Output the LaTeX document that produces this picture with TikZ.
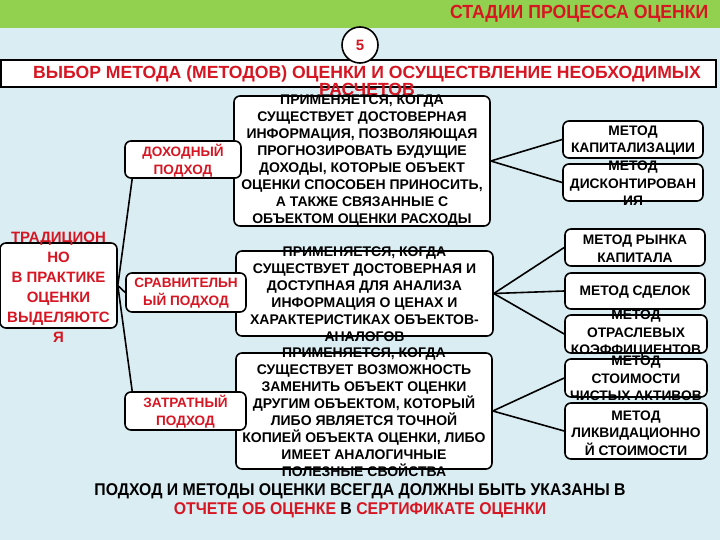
\documentclass[tikz,border=0pt]{standalone}
\usepackage{fontspec}
\setmainfont{Liberation Sans}
\newfontfamily\narrowfont[FakeStretch=0.93]{Liberation Sans}
\definecolor{ored}{RGB}{214,22,34}
\definecolor{band}{RGB}{146,208,80}
\definecolor{sky}{RGB}{218,237,243}
\tikzset{
    box/.style={draw=black, line width=1.6pt, fill=white, rounded corners=6pt, inner sep=0pt},
    redtxt/.style={text=ored, font=\bfseries\fontsize{13.6}{18}\selectfont, align=center, inner sep=0pt},
    desctxt/.style={font=\bfseries\fontsize{14}{17}\selectfont, align=center, inner sep=0pt},
    methtxt/.style={font=\bfseries\fontsize{13.8}{17.5}\selectfont, align=center, inner sep=0pt},
    conn/.style={draw=black, line width=1.6pt},
}
\begin{document}
\begin{tikzpicture}[x=1pt,y=-1pt]
    \useasboundingbox (0,0) rectangle (720,540);
    \fill[sky] (0,28) rectangle (720,540);
    \fill[band] (0,0) rectangle (720,28);

    \node[anchor=east, text=ored, font=\narrowfont\bfseries\fontsize{19}{22}\selectfont] (stages) at (712,14) {СТАДИИ ПРОЦЕССА ОЦЕНКИ};

    % title box
    \node[draw=black, line width=1.6pt, fill=white, minimum width=715, minimum height=27, inner sep=0pt] (titlebox) at (358.5,73.5) {};
    \node[text=ored, align=center, inner sep=0pt, font=\bfseries\fontsize{17.6}{17}\selectfont] (title) at (367,81) {ВЫБОР МЕТОДА (МЕТОДОВ) ОЦЕНКИ И ОСУЩЕСТВЛЕНИЕ НЕОБХОДИМЫХ\\РАСЧЕТОВ};
    \node[shape=circle, draw=black, line width=1.6pt, fill=white, minimum size=36, inner sep=0pt, text=ored, font=\bfseries\fontsize{15}{15}\selectfont] (step5) at (360,45) {5};

    % descriptions
    \node[box, minimum width=256, minimum height=130] (d1) at (362,161) {};
    \node[desctxt] (d1t) at (362,161) {ПРИМЕНЯЕТСЯ, КОГДА\\СУЩЕСТВУЕТ ДОСТОВЕРНАЯ\\ИНФОРМАЦИЯ, ПОЗВОЛЯЮЩАЯ\\ПРОГНОЗИРОВАТЬ БУДУЩИЕ\\ДОХОДЫ, КОТОРЫЕ ОБЪЕКТ\\ОЦЕНКИ СПОСОБЕН ПРИНОСИТЬ,\\А ТАКЖЕ СВЯЗАННЫЕ С\\ОБЪЕКТОМ ОЦЕНКИ РАСХОДЫ};
    \node[box, minimum width=257, minimum height=85] (d2) at (364.5,293.5) {};
    \node[desctxt] (d2t) at (364.5,294) {ПРИМЕНЯЕТСЯ, КОГДА\\СУЩЕСТВУЕТ ДОСТОВЕРНАЯ И\\ДОСТУПНАЯ ДЛЯ АНАЛИЗА\\ИНФОРМАЦИЯ О ЦЕНАХ И\\ХАРАКТЕРИСТИКАХ ОБЪЕКТОВ-\\АНАЛОГОВ};
    \node[box, minimum width=256, minimum height=116] (d3) at (364,411) {};
    \node[desctxt] (d3t) at (364,412) {ПРИМЕНЯЕТСЯ, КОГДА\\СУЩЕСТВУЕТ ВОЗМОЖНОСТЬ\\ЗАМЕНИТЬ ОБЪЕКТ ОЦЕНКИ\\ДРУГИМ ОБЪЕКТОМ, КОТОРЫЙ\\ЛИБО ЯВЛЯЕТСЯ ТОЧНОЙ\\КОПИЕЙ ОБЪЕКТА ОЦЕНКИ, ЛИБО\\ИМЕЕТ АНАЛОГИЧНЫЕ\\ПОЛЕЗНЫЕ СВОЙСТВА};

    % approaches
    \node[box, minimum width=117, minimum height=85] (trad) at (58.5,285.5) {};
    \node[redtxt, font=\bfseries\fontsize{15}{20}\selectfont] (tradt) at (58.5,287) {ТРАДИЦИОН\\НО\\В ПРАКТИКЕ\\ОЦЕНКИ\\ВЫДЕЛЯЮТС\\Я};
    \node[box, minimum width=116, minimum height=37] (doh) at (183,159.5) {};
    \node[redtxt] (doht) at (183,160.5) {ДОХОДНЫЙ\\ПОДХОД};
    \node[box, minimum width=120, minimum height=39] (srav) at (186,292.5) {};
    \node[redtxt] (sravt) at (186,293.5) {СРАВНИТЕЛЬН\\ЫЙ ПОДХОД};
    \node[box, minimum width=121, minimum height=38] (zatr) at (185.5,411) {};
    \node[redtxt] (zatrt) at (185.5,412) {ЗАТРАТНЫЙ\\ПОДХОД};

    % methods
    \node[box, minimum width=140, minimum height=37] (m1) at (633,139.5) {};
    \node[methtxt] (m1t) at (633,140.5) {МЕТОД\\КАПИТАЛИЗАЦИИ};
    \node[box, minimum width=140, minimum height=37] (m2) at (633,182.5) {};
    \node[methtxt] (m2t) at (633,183.5) {МЕТОД\\ДИСКОНТИРОВАН\\ИЯ};
    \node[box, minimum width=140, minimum height=37] (m3) at (635,247.5) {};
    \node[methtxt] (m3t) at (635,248.5) {МЕТОД РЫНКА\\КАПИТАЛА};
    \node[box, minimum width=140, minimum height=36] (m4) at (635,291) {};
    \node[methtxt] (m4t) at (635,292) {МЕТОД СДЕЛОК};
    \node[box, minimum width=142, minimum height=38] (m5) at (636,334) {};
    \node[methtxt] (m5t) at (636,334) {МЕТОД\\ОТРАСЛЕВЫХ\\КОЭФФИЦИЕНТОВ};
    \node[box, minimum width=142, minimum height=38] (m6) at (636,378) {};
    \node[methtxt] (m6t) at (636,378.5) {МЕТОД\\СТОИМОСТИ\\ЧИСТЫХ АКТИВОВ};
    \node[box, minimum width=142, minimum height=56] (m7) at (636,431) {};
    \node[methtxt] (m7t) at (636,433) {МЕТОД\\ЛИКВИДАЦИОННО\\Й СТОИМОСТИ};

    \path [conn] (trad.east) edge ([xshift=8pt]doh.south west);
    \path [conn] (trad.east) edge (srav.west);
    \path [conn] (trad.east) edge ([xshift=8pt]zatr.north west);
    \path [conn] (d1.east) edge (m1.west);
    \path [conn] (d1.east) edge (m2.west);
    \path [conn] (d2.east) edge (m3.west);
    \path [conn] (d2.east) edge (m4.west);
    \path [conn] (d2.east) edge (m5.west);
    \path [conn] (d3.east) edge (m6.west);
    \path [conn] (d3.east) edge (m7.west);

    \node[align=center, inner sep=0pt, font=\narrowfont\bfseries\fontsize{17}{19}\selectfont] (note) at (360,501) {ПОДХОД И МЕТОДЫ ОЦЕНКИ ВСЕГДА ДОЛЖНЫ БЫТЬ УКАЗАНЫ В\\\textcolor{ored}{ОТЧЕТЕ ОБ ОЦЕНКЕ} В \textcolor{ored}{СЕРТИФИКАТЕ ОЦЕНКИ}};
\end{tikzpicture}
\end{document}
